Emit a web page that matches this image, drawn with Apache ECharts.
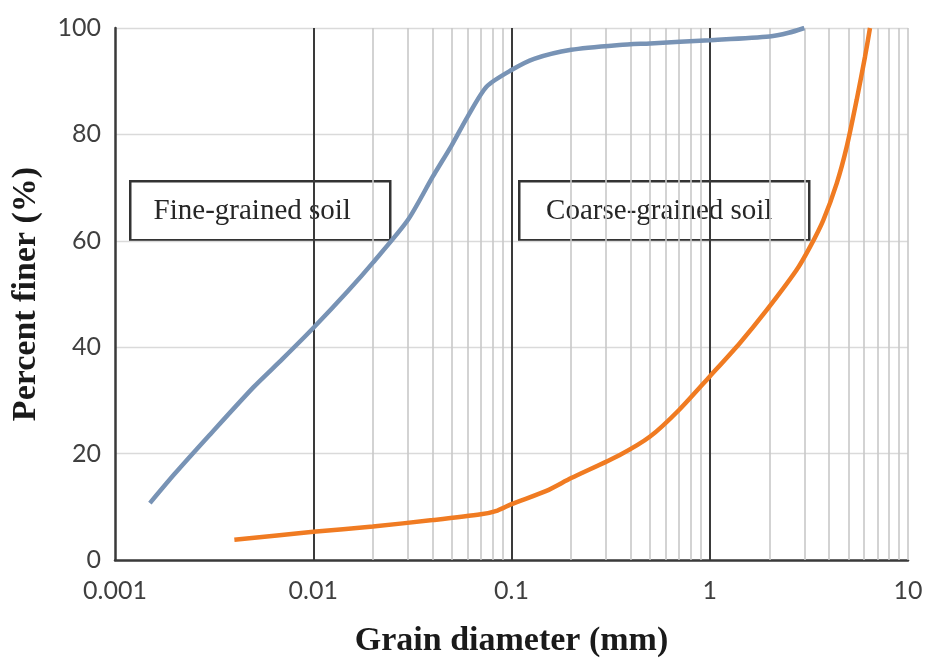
<!DOCTYPE html>
<html>
<head>
<meta charset="utf-8">
<script src="https://cdn.jsdelivr.net/npm/echarts@6/dist/echarts.min.js"></script>
<style>html,body{margin:0;padding:0;background:#fff;}#c{width:928px;height:661px;}</style>
</head>
<body>
<div id="c"></div>
<script>
// Fine-grained soil: grain diameter (mm) and percent finer (%)
const fineDiam = [0.0015, 0.002, 0.003, 0.005, 0.007, 0.01, 0.015, 0.02, 0.03, 0.04, 0.05, 0.06, 0.075, 0.1, 0.13, 0.2, 0.35, 0.5, 1.0, 2.0, 2.5, 3.0];
const finePct  = [10.7, 16.2, 23.5, 32.5, 37.8, 43.6, 50.6, 55.9, 63.9, 72.0, 78.0, 83.3, 89.0, 92.1, 94.2, 95.9, 96.8, 97.1, 97.7, 98.4, 99.1, 100];
// Coarse-grained soil
const coarseDiam = [0.004, 0.01, 0.02, 0.04, 0.07, 0.085, 0.1, 0.15, 0.2, 0.35, 0.5, 0.7, 1.0, 1.42, 1.94, 2.74, 3.21, 3.74, 4.37, 4.91, 5.51, 6.07, 6.43];
const coarsePct  = [3.8, 5.3, 6.3, 7.5, 8.6, 9.3, 10.5, 13.0, 15.4, 19.7, 23.2, 28.2, 34.5, 40.8, 47.0, 54.5, 58.9, 63.9, 70.8, 77.7, 86.5, 94.6, 100];
// Grid positions on the log axis
const decadeGrid = [0.01, 0.1, 1];
const minorGrid = [];
[0.001, 0.01, 0.1, 1].forEach(function (d) { for (let k = 2; k <= 9; k++) minorGrid.push(+(d * k).toPrecision(3)); });
minorGrid.push(10);
const boxLabels = ['Fine-grained soil', 'Coarse-grained soil'];

const chart = echarts.init(document.getElementById('c'), null, {renderer: 'canvas'});
const tickFont = {fontFamily: 'Lato, "Liberation Sans", sans-serif', fontSize: 25, color: '#3f3f3f'};
const titleFont = {fontFamily: '"Liberation Serif", "DejaVu Serif", serif', fontWeight: 'bold', fontSize: 34, color: '#1a1a1a'};
const boxText = {align: 'center', verticalAlign: 'middle', fontFamily: '"Liberation Serif", serif', fontSize: 29, fill: '#262626'};
const option = {
  backgroundColor: '#ffffff',
  animation: false,
  grid: {left: 115, right: 20, top: 28, bottom: 101, containLabel: false, outerBoundsMode: 'none'},
  xAxis: {
    type: 'log', logBase: 10, min: 0.001, max: 10,
    name: 'Grain diameter (mm)', nameLocation: 'middle', nameGap: 64,
    nameTextStyle: titleFont,
    axisLine: {show: true, lineStyle: {color: '#3a3a3a', width: 2.5}},
    axisTick: {show: false},
    axisLabel: Object.assign({margin: 18, formatter: function (v) { return String(+v.toPrecision(3)); }}, tickFont),
    splitLine: {show: false}
  },
  yAxis: {
    type: 'value', min: 0, max: 100, interval: 20,
    name: 'Percent finer (%)', nameLocation: 'middle', nameGap: 72, nameRotate: 90,
    nameTextStyle: titleFont,
    axisLine: {show: true, lineStyle: {color: '#3a3a3a', width: 2.5}},
    axisTick: {show: false},
    axisLabel: Object.assign({margin: 14}, tickFont),
    splitLine: {show: true, lineStyle: {color: '#dadada', width: 1.3}}
  },
  series: [
    {
      type: 'line', data: [], silent: true,
      markLine: {
        silent: true, symbol: ['none', 'none'], label: {show: false},
        lineStyle: {color: '#c8c8c8', width: 1.6, type: 'solid'},
        data: minorGrid.map(function (v) { return {xAxis: v}; })
      }
    },
    {
      type: 'line', data: [], silent: true,
      markLine: {
        silent: true, symbol: ['none', 'none'], label: {show: false},
        lineStyle: {color: '#3a3a3a', width: 2, type: 'solid'},
        data: decadeGrid.map(function (v) { return {xAxis: v}; })
      }
    },
    {
      name: 'Fine', type: 'line', smooth: 0.25, showSymbol: false,
      lineStyle: {color: '#7893b5', width: 4.5}, itemStyle: {color: '#7893b5'},
      data: fineDiam.map(function (d, i) { return [d, finePct[i]]; }), z: 5
    },
    {
      name: 'Coarse', type: 'line', smooth: 0.25, showSymbol: false,
      lineStyle: {color: '#f07b22', width: 4.5}, itemStyle: {color: '#f07b22'},
      data: coarseDiam.map(function (d, i) { return [d, coarsePct[i]]; }), z: 5
    }
  ],
  graphic: [
    {type: 'group', left: 129, top: 180, z: 100, children: [
      {type: 'rect', shape: {x: 0, y: 0, width: 260, height: 59}, style: {fill: '#fff', stroke: '#333', lineWidth: 2.5}},
      {type: 'text', x: 122, y: 30, style: Object.assign({text: boxLabels[0]}, boxText)}
    ]},
    {type: 'group', left: 518, top: 180, z: 100, children: [
      {type: 'rect', shape: {x: 0, y: 0, width: 290, height: 59}, style: {fill: '#fff', stroke: '#333', lineWidth: 2.5}},
      {type: 'text', x: 140, y: 30, style: Object.assign({text: boxLabels[1]}, boxText)}
    ]}
  ]
};
chart.setOption(option);
</script>
</body>
</html>
